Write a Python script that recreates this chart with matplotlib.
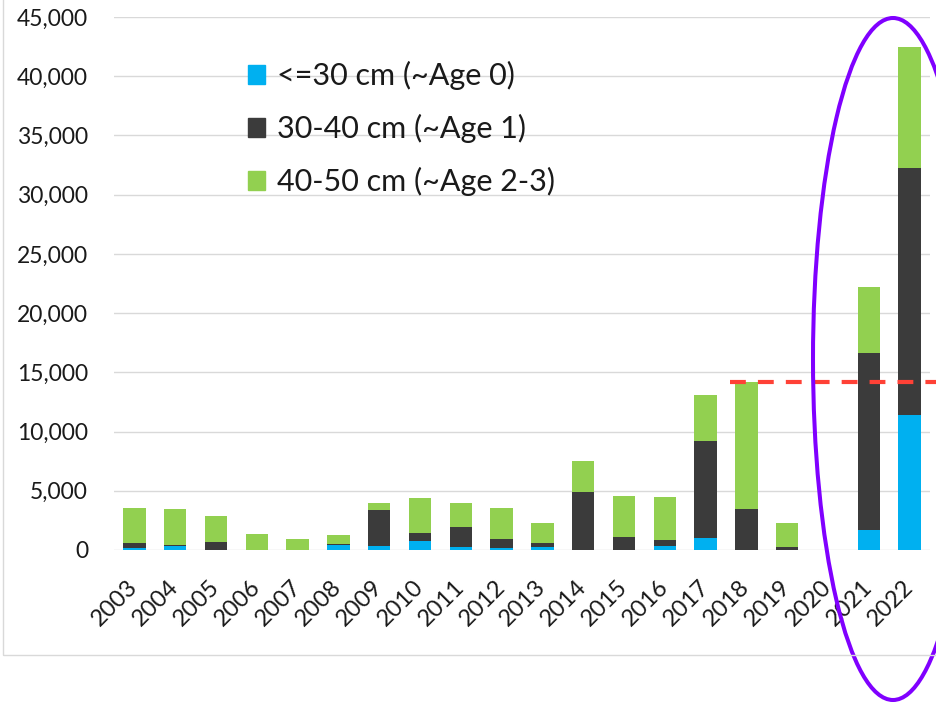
import numpy as np
import matplotlib.pyplot as plt
from matplotlib.patches import Ellipse, Rectangle, Patch

plt.rcParams['font.family'] = ['Lato', 'DejaVu Sans']

# survey years
years = ['2003', '2004', '2005', '2006', '2007', '2008', '2009', '2010', '2011', '2012',
         '2013', '2014', '2015', '2016', '2017', '2018', '2019', '2020', '2021', '2022']
# counts per length class
age0 = [170, 310, 30, 0, 0, 420, 340, 760, 250, 170,
        280, 0, 0, 340, 1040, 0, 0, 0, 1650, 11400]
age1 = [390, 80, 670, 0, 0, 90, 3030, 700, 1720, 755,
        280, 4890, 1120, 475, 8200, 3450, 225, 0, 14970, 20850]
age23 = [2990, 3090, 2160, 1350, 930, 730, 620, 2920, 2020, 2645,
         1690, 2640, 3460, 3655, 3880, 10760, 2025, 0, 5600, 10180]
labels = ['<=30 cm (~Age 0)', '30-40 cm (~Age 1)', '40-50 cm (~Age 2-3)']
colors = ['#00B0F0', '#3B3B3B', '#92D050']

a0 = np.array(age0)
a1 = np.array(age1)
a2 = np.array(age23)
x = np.arange(len(years))
# reference level = 2018 total
ref_level = (a0 + a1 + a2)[years.index('2018')]

fig = plt.figure(figsize=(9.36, 7.04), dpi=100)
ax = fig.add_axes([0.1218, 0.2188, 0.8718, 0.7571])

w = 0.55
ax.bar(x, a0, w, color=colors[0], zorder=2)
ax.bar(x, a1, w, bottom=a0, color=colors[1], zorder=2)
ax.bar(x, a2, w, bottom=a0 + a1, color=colors[2], zorder=2)

ax.set_xlim(-0.5, 19.5)
ax.set_ylim(0, 45000)
ax.set_yticks(np.arange(0, 45001, 5000))
ax.yaxis.set_major_formatter(plt.FuncFormatter(lambda v, p: f'{int(v):,}'))
ax.set_xticks(x)
ax.set_xticklabels(years, rotation=45, ha='right', va='center', rotation_mode='anchor')
ax.tick_params(axis='y', length=0, pad=18.7, labelsize=16.5, colors='#1A1A1A')
ax.tick_params(axis='x', length=0, pad=24, labelsize=17, colors='#1A1A1A')
ax.grid(axis='y', color='#D9D9D9', lw=1, zorder=0)
for s in ax.spines.values():
    s.set_visible(False)

# red dashed reference line from 2018 onward
ax.plot([14.6, 19.65], [ref_level, ref_level], color='#FF4136', lw=3,
        linestyle=(0, (3.8, 2.9)), clip_on=False, zorder=3)

# white legend area (hides gridlines like the original)
ax.add_patch(Rectangle((175 / 936, 1 - 207 / 704), 442 / 936, 160 / 704,
                       transform=fig.transFigure, facecolor='white', edgecolor='none', zorder=1))

handles = [Patch(color=c) for c in colors]
leg = ax.legend(handles, labels, loc='upper left', bbox_to_anchor=(233 / 936, 1 - 46 / 704),
                bbox_transform=fig.transFigure, fontsize=22, frameon=False,
                handlelength=0.55, handleheight=0.55,
                handletextpad=0.39, labelspacing=0.78, borderpad=0.5, borderaxespad=0)
leg.set_zorder(4)
for t in leg.get_texts():
    t.set_color('#1A1A1A')

# purple ellipse around 2021-2022
fig.patches.append(Ellipse((893 / 936, 1 - 359 / 704), 160 / 936, 682 / 704,
                           transform=fig.transFigure, fill=False, edgecolor='#8000FF', lw=2.9))
# outer chart border
fig.patches.append(Rectangle((3 / 936, 1 - 655 / 704), 2, 2, transform=fig.transFigure,
                             fill=False, edgecolor='#D9D9D9', lw=1))

fig.savefig('out.png', dpi=100)
